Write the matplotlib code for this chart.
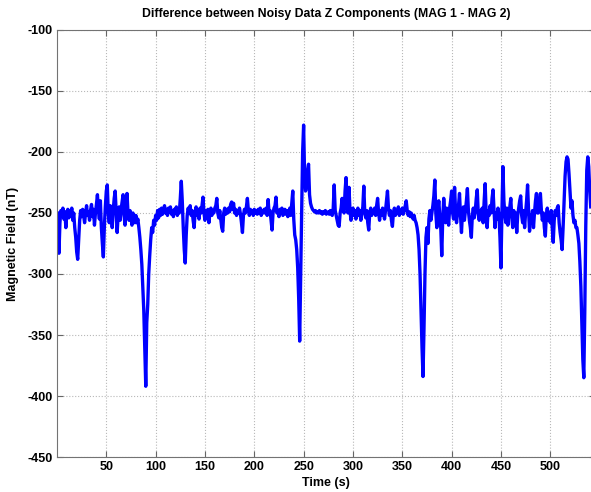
import matplotlib.pyplot as plt

# magnetometer difference, one sample per second (t = 1..541 s)
time_s = list(range(1, 542))

field_nT = [
    # 1-100
    -250, -283, -258, -248, -252, -246, -255, -249, -262, -250,
    -247, -254, -248, -252, -246, -256, -250, -262, -270, -282,
    -288, -272, -256, -248, -253, -247, -252, -258, -250, -244,
    -252, -249, -256, -248, -243, -253, -247, -260, -250, -243,
    -235, -248, -255, -240, -262, -275, -286, -262, -245, -232,
    -227, -250, -258, -244, -250, -262, -248, -238, -232, -249,
    -266, -252, -245, -256, -247, -241, -235, -252, -260, -246,
    -234, -250, -256, -248, -253, -260, -250, -255, -258, -252,
    -258, -255, -262, -270, -280, -292, -310, -330, -360, -392,
    -340, -325, -300, -285, -272, -262, -266, -256, -260, -252,
    # 101-210
    -256, -248, -254, -247, -252, -246, -251, -248, -244, -250,
    -247, -252, -246, -249, -245, -251, -248, -253, -247, -250,
    -245, -252, -248, -250, -238, -224, -240, -262, -280, -291,
    -268, -252, -246, -250, -244, -252, -248, -256, -262, -250,
    -245, -252, -248, -255, -246, -250, -244, -237, -250, -256,
    -248, -252, -247, -258, -250, -246, -252, -248, -250, -246,
    -244, -238, -250, -254, -248, -255, -262, -265, -250, -246,
    -251, -247, -250, -246, -249, -243, -241, -247, -242, -250,
    -247, -252, -248, -250, -246, -251, -258, -266, -252, -247,
    -250, -245, -238, -248, -252, -247, -250, -248, -252, -247,
    -250, -248, -251, -247, -250, -246, -252, -248, -250, -247,
    # 211-320
    -250, -246, -252, -239, -250, -248, -256, -264, -250, -246,
    -244, -237, -250, -248, -253, -247, -250, -246, -252, -249,
    -247, -251, -248, -253, -250, -246, -252, -242, -232, -255,
    -268, -272, -280, -295, -320, -355, -300, -250, -200, -178,
    -220, -232, -226, -215, -210, -235, -242, -245, -247, -248,
    -249, -248, -250, -249, -250, -248, -250, -249, -251, -249,
    -250, -248, -251, -250, -249, -251, -248, -250, -252, -246,
    -227, -248, -252, -256, -260, -261, -250, -246, -238, -248,
    -250, -232, -221, -245, -250, -229, -248, -256, -250, -246,
    -252, -248, -255, -250, -246, -252, -248, -256, -250, -245,
    -228, -250, -254, -248, -258, -264, -250, -246, -252, -248,
    # 321-430
    -250, -246, -252, -244, -238, -250, -256, -248, -252, -246,
    -250, -255, -248, -240, -232, -246, -252, -248, -256, -261,
    -250, -246, -252, -248, -250, -245, -252, -248, -250, -246,
    -251, -248, -244, -240, -248, -252, -249, -253, -250, -252,
    -255, -252, -256, -258, -262, -268, -280, -300, -330, -360,
    -384, -345, -300, -270, -262, -275, -255, -248, -256, -250,
    -244, -236, -223, -250, -262, -248, -240, -252, -262, -285,
    -255, -238, -250, -258, -246, -252, -260, -246, -240, -232,
    -250, -255, -229, -248, -258, -250, -244, -234, -252, -266,
    -250, -245, -256, -248, -240, -230, -248, -256, -262, -270,
    -252, -246, -254, -248, -238, -231, -250, -256, -248, -252,
    # 431-541
    -246, -258, -240, -226, -250, -262, -248, -252, -244, -250,
    -238, -231, -248, -262, -250, -255, -246, -252, -270, -295,
    -250, -212, -240, -252, -258, -246, -260, -250, -245, -238,
    -254, -262, -248, -256, -250, -266, -252, -246, -240, -236,
    -252, -258, -248, -262, -250, -240, -227, -248, -265, -252,
    -256, -248, -262, -250, -240, -234, -250, -250, -242, -234,
    -248, -256, -250, -262, -269, -252, -246, -256, -250, -258,
    -248, -262, -274, -256, -248, -252, -246, -244, -258, -266,
    -272, -280, -262, -240, -220, -208, -204, -206, -218, -232,
    -246, -240, -252, -258, -256, -262, -262, -268, -275, -290,
    -310, -340, -370, -385, -330, -260, -215, -204, -212, -232,
    -245,
]

x_ticks = [50, 100, 150, 200, 250, 300, 350, 400, 450, 500]
y_ticks = [-450, -400, -350, -300, -250, -200, -150, -100]

plt.rcParams['font.family'] = ['Liberation Sans', 'DejaVu Sans']
plt.rcParams['font.weight'] = 'bold'
plt.rcParams['axes.unicode_minus'] = False

fig = plt.figure(figsize=(5.91, 4.92), dpi=100)
ax = fig.add_axes([0.0964, 0.0711, 0.9098, 0.868])

ax.plot(time_s, field_nT, color=(0, 0, 1), linewidth=2.4)

ax.set_xlim(0, 545)
ax.set_ylim(-450, -100)
ax.set_xticks(x_ticks)
ax.set_yticks(y_ticks)
ax.grid(True, linestyle=':', color='0.72', linewidth=0.8)
ax.tick_params(direction='in', top=True, right=True, length=4, labelsize=9, color='0.4', pad=3)
for s in ax.spines.values():
    s.set_color('0.45')

ax.set_title("Difference between Noisy Data Z Components (MAG 1 - MAG 2)", fontsize=8.8, fontweight='bold', pad=9)
ax.set_xlabel("Time (s)", fontsize=9, fontweight='bold', labelpad=3)
ax.set_ylabel("Magnetic Field (nT)", fontsize=9, fontweight='bold', labelpad=6)

fig.savefig("out.png", dpi=100)
